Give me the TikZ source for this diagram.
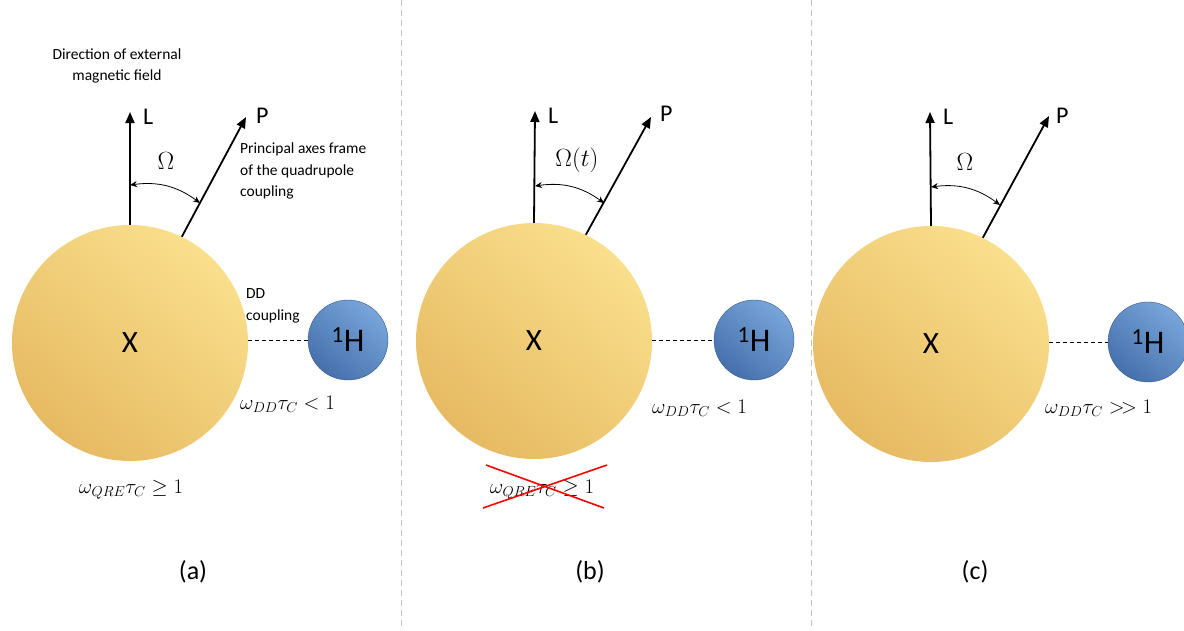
\documentclass[tikz,border=0pt]{standalone}
\usepackage{fontspec}
\setmainfont{Carlito}
\usetikzlibrary{arrows.meta}
\definecolor{goldL}{RGB}{250,223,140}
\definecolor{goldD}{RGB}{230,186,98}
\definecolor{blueL}{RGB}{120,165,218}
\definecolor{blueD}{RGB}{70,112,172}
\definecolor{sepgray}{RGB}{195,195,195}
\tikzset{
  bigatom/.style={circle, minimum size=236pt, inner sep=0pt, top color=goldL, bottom color=goldD, shading angle=-40, font=\fontsize{31}{31}\selectfont},
  hatom/.style={circle, minimum size=80pt, inner sep=0pt, top color=blueL, bottom color=blueD, shading angle=-40, draw=blueD!80!black, line width=0.4pt, font=\fontsize{33}{33}\selectfont},
  axis/.style={line width=1.8pt, -{Triangle[length=11pt,width=9pt]}},
  axlab/.style={font=\fontsize{24}{24}\selectfont, anchor=west, inner sep=0pt},
  angarc/.style={line width=0.8pt, {Stealth[length=7pt,width=6pt]}-{Stealth[length=7pt,width=6pt]}},
  omlab/.style={font=\fontsize{24}{24}\selectfont, inner sep=0pt},
  ddline/.style={line width=0.9pt, dash pattern=on 4pt off 3pt},
  cond/.style={font=\fontsize{21.5}{21.5}\selectfont, inner sep=0pt},
  note/.style={font=\fontsize{15.5}{21.5}\selectfont, inner sep=0pt, align=left},
  sep/.style={sepgray, line width=0.8pt, dash pattern=on 6pt off 4pt},
  panlab/.style={font=\fontsize{26}{26}\selectfont, inner sep=0pt},
  cross/.style={red, line width=1.6pt}
}
\begin{document}
\begin{tikzpicture}[x=1pt,y=-1pt]
\useasboundingbox (0,0) rectangle (1184,630);
\fill[white] (0,0) rectangle (1184,630);
% separators
\coordinate (s1t) at (401,0); \coordinate (s1b) at (401,630);
\coordinate (s2t) at (811,0); \coordinate (s2b) at (811,630);
\draw[sep] (s1t) -- (s1b);
\draw[sep] (s2t) -- (s2b);

% ---------- panel (a)
\node[bigatom] (Xa) at (130,343) {X};
\node[hatom] (Ha) at (348,340) {\textsuperscript{1}H};
\draw[ddline] (Xa.east |- Ha.west) -- (Ha.west);
\coordinate (La) at (130,112);
\coordinate (Pa) at (246,117);
\draw[axis] (Xa.north) -- (La);
\draw[axis] (Xa.64) -- (Pa);
\node[axlab] (Lla) at (143,117) {L};
\node[axlab] (Pla) at (256,116) {P};
\coordinate (A1a) at (130,185);
\coordinate (A2a) at (200,203);
\draw[angarc] (A1a) to[bend left=22] (A2a);
\node[omlab] (Oa) at (166,161) {$\Omega$};
\node[note, anchor=west] (pa) at (240,171) {Principal axes frame\\of the quadrupole\\coupling};
\node[note, align=center] (dir) at (117,66) {Direction of external\\magnetic field};
\node[note, anchor=west] (dd) at (246,306) {DD\\coupling};
\node[cond, anchor=west] (Ca) at (240,404) {$\omega_{DD}\tau_C<1$};
\node[cond] (Qa) at (131,490) {$\omega_{QRE}\tau_C\geq 1$};
\node[panlab] (la) at (193,572) {(a)};

% ---------- panel (b)
\node[bigatom] (Xb) at (534,341) {X};
\node[hatom] (Hb) at (754,340) {\textsuperscript{1}H};
\draw[ddline] (Xb.east |- Hb.west) -- (Hb.west);
\coordinate (Lb) at (535,111);
\coordinate (Pb) at (651,117);
\draw[axis] (Xb.north) -- (Lb);
\draw[axis] (Xb.64) -- (Pb);
\node[axlab] (Llb) at (548,116) {L};
\node[axlab] (Plb) at (660,114) {P};
\coordinate (A1b) at (535,186);
\coordinate (A2b) at (604,203);
\draw[angarc] (A1b) to[bend left=22] (A2b);
\node[omlab] (Ob) at (577,160) {$\Omega(t)$};
\node[cond, anchor=west] (Cb) at (652,408) {$\omega_{DD}\tau_C<1$};
\node[cond] (Qb) at (542,490) {$\omega_{QRE}\tau_C\geq 1$};
\coordinate (r1) at (486,465); \coordinate (r2) at (604,508);
\coordinate (r3) at (607,465); \coordinate (r4) at (483,508);
\draw[cross] (r1) -- (r2);
\draw[cross] (r3) -- (r4);
\node[panlab] (lb) at (590,572) {(b)};

% ---------- panel (c)
\node[bigatom] (Xc) at (931,344) {X};
\node[hatom] (Hc) at (1148,342) {\textsuperscript{1}H};
\draw[ddline] (Xc.east |- Hc.west) -- (Hc.west);
\coordinate (Lc) at (930,112);
\coordinate (Pc) at (1049,116);
\draw[axis] (Xc.north) -- (Lc);
\draw[axis] (Xc.64) -- (Pc);
\node[axlab] (Llc) at (943,117) {L};
\node[axlab] (Plc) at (1056,116) {P};
\coordinate (A1c) at (931,187);
\coordinate (A2c) at (1000,205);
\draw[angarc] (A1c) to[bend left=22] (A2c);
\node[omlab] (Oc) at (965,162) {$\Omega$};
\node[cond, anchor=west] (Cc) at (1045,408) {$\omega_{DD}\tau_C>\!>1$};
\node[panlab] (lc) at (975,572) {(c)};
\end{tikzpicture}
\end{document}
